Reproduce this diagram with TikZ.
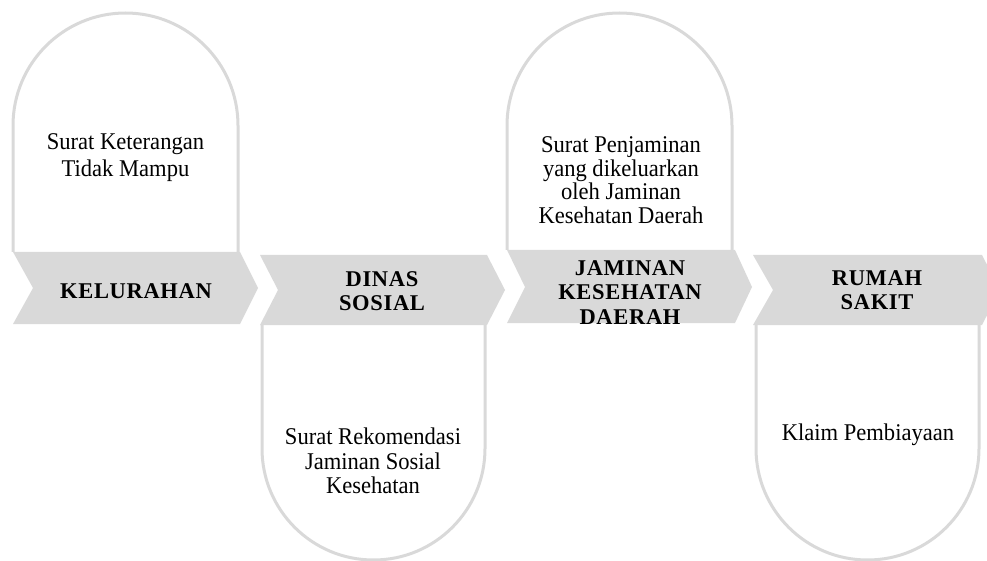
\documentclass[tikz,border=0pt]{standalone}
\usepackage{fontspec}
\setmainfont{Liberation Serif}
\usepackage{tikz}
\definecolor{boxgray}{RGB}{217,217,217}
\tikzset{
    panel/.style={draw=boxgray, line width=3pt, fill=white},
    chevron/.style={fill=boxgray},
    bodytext/.style={align=center, font=\fontsize{24}{#1}\selectfont\addfontfeatures{FakeStretch=0.94}},
    bodytext/.default=25,
    headtext/.style={align=center, font=\fontsize{22.5}{24.4}\selectfont\bfseries\addfontfeatures{LetterSpace=3}}}

\begin{document}
\begin{tikzpicture}[x=1pt, y=-1pt]

            \useasboundingbox (0,0) rectangle (987,561);

            \draw[panel] (13,252) -- (13,125.5) arc (180:360:112.5) -- (238,252);
            \draw[panel] (262,325) -- (262,448.5) arc (180:0:111.5) -- (485,325);
            \draw[panel] (507,250) -- (507,125.5) arc (180:360:112.5) -- (732,250);
            \draw[panel] (756,325) -- (756,448.5) arc (180:0:111.5) -- (979,325);

            \fill[chevron] (13,252) -- (240,252) -- (258,288) -- (240,324) -- (13,324) -- (33,288) -- cycle;
            \fill[chevron] (260,255) -- (487,255) -- (505,290) -- (487,325) -- (260,325) -- (278,290) -- cycle;
            \fill[chevron] (507,250) -- (735,250) -- (752,287) -- (735,323) -- (507,323) -- (525,287) -- cycle;
            \fill[chevron] (753,255) -- (982,255) -- (1000,290) -- (982,325) -- (753,325) -- (773,290) -- cycle;

            \node[bodytext=27] (A) at (125.5,158) {Surat Keterangan\\Tidak Mampu};
            \node[bodytext=24.5] (B) at (373,461) {Surat Rekomendasi\\Jaminan Sosial\\Kesehatan};
            \node[bodytext=23.5] (C) at (621,180) {Surat Penjaminan\\yang dikeluarkan\\oleh Jaminan\\Kesehatan Daerah};
            \node[bodytext] (D) at (868,435) {Klaim Pembiayaan};

            \node[headtext] (KA) at (136,291) {KELURAHAN};
            \node[headtext] (KB) at (382,291) {DINAS\\SOSIAL};
            \begin{scope}
                \clip (500,250) rectangle (760,323);
                \node[headtext] (KC) at (630,292.5) {JAMINAN\\KESEHATAN\\DAERAH};
            \end{scope}
            \node[headtext] (KD) at (877,290) {RUMAH\\SAKIT};

        \end{tikzpicture}
\end{document}
